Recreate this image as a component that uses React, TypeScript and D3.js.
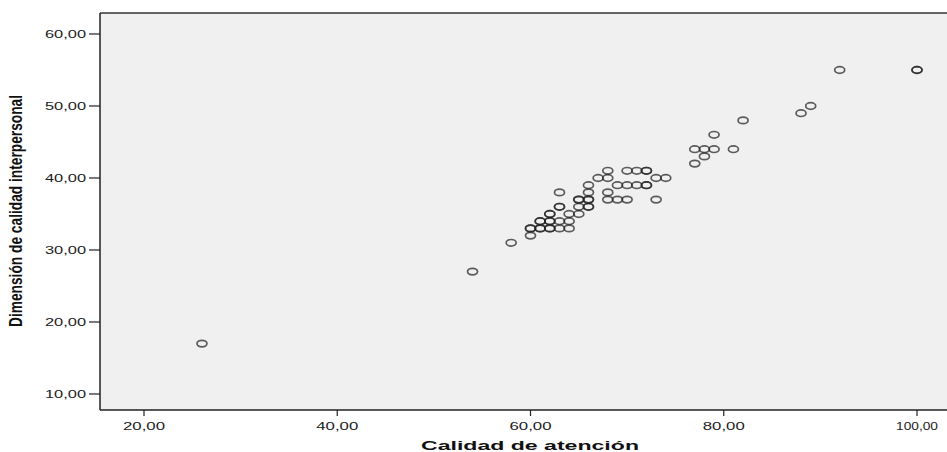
import React from "react";
import * as d3 from "d3";

const xValues = [26, 54, 58, 60, 60, 60, 61, 61, 62, 62, 63, 64, 61, 61, 62, 62, 63, 64, 62, 62, 64, 65, 63, 63, 65, 66, 66, 65, 65, 66, 66, 68, 69, 70, 73, 63, 66, 68, 66, 69, 70, 71, 72, 72, 67, 68, 73, 74, 68, 70, 71, 72, 72, 77, 78, 77, 78, 79, 81, 79, 82, 88, 89, 92, 100, 100];
const yValues = [17, 27, 31, 32, 33, 33, 33, 33, 33, 33, 33, 33, 34, 34, 34, 34, 34, 34, 35, 35, 35, 35, 36, 36, 36, 36, 36, 37, 37, 37, 37, 37, 37, 37, 37, 38, 38, 38, 39, 39, 39, 39, 39, 39, 40, 40, 40, 40, 41, 41, 41, 41, 41, 42, 43, 44, 44, 44, 44, 46, 48, 49, 50, 55, 55, 55];
const xTicks = [20, 40, 60, 80, 100];
const yTicks = [10, 20, 30, 40, 50, 60];
const xTitle = "Calidad de atención";
const yTitle = "Dimensión de calidad interpersonal";

const fmt = (v: number) => v.toFixed(2).replace(".", ",");

export default function App() {
  const W = 947;
  const H = 452;
  const left = 100;
  const top = 13;
  const bottom = 410;
  const right = 947;
  const x = d3.scaleLinear().domain([20, 100]).range([144, 917]);
  const y = d3.scaleLinear().domain([10, 60]).range([394, 34]);
  const points = xValues.map((v, i) => ({ x: v, y: yValues[i] }));
  const font = "Arial, 'Liberation Sans', sans-serif";
  return (
    <svg
      width={W}
      height={H}
      style={{ position: "absolute", left: 0, top: 0, background: "#fff" }}
    >
      <rect x={left} y={top} width={right - left} height={bottom - top} fill="#f0f0f0" />
      <line x1={left} x2={right} y1={top} y2={top} stroke="#333" strokeWidth={1.3} />
      <line x1={left} x2={right} y1={bottom} y2={bottom} stroke="#222" strokeWidth={1.5} />
      <line x1={left} x2={left} y1={top} y2={bottom} stroke="#222" strokeWidth={1.5} />
      {yTicks.map((t) => (
        <g key={"y" + t}>
          <line x1={89} x2={left} y1={y(t)} y2={y(t)} stroke="#222" strokeWidth={1.2} />
          <text
            x={45}
            y={y(t) + 3.5}
            fontFamily={font}
            fontSize={10}
            fill="#222"
            textLength={41}
            lengthAdjust="spacingAndGlyphs"
          >
            {fmt(t)}
          </text>
        </g>
      ))}
      {xTicks.map((t) => (
        <g key={"x" + t}>
          <line x1={x(t)} x2={x(t)} y1={bottom} y2={bottom + 6} stroke="#222" strokeWidth={1.2} />
          <text
            x={x(t) - 21}
            y={430}
            fontFamily={font}
            fontSize={10.5}
            fill="#222"
            textLength={42}
            lengthAdjust="spacingAndGlyphs"
          >
            {fmt(t)}
          </text>
        </g>
      ))}
      <text
        x={421}
        y={450}
        fontFamily={font}
        fontSize={12.5}
        fontWeight="bold"
        fill="#111"
        textLength={218}
        lengthAdjust="spacingAndGlyphs"
      >
        {xTitle}
      </text>
      <text
        transform={`translate(22,327) rotate(-90)`}
        x={0}
        y={0}
        fontFamily={font}
        fontSize={18}
        fontWeight="bold"
        fill="#111"
        textLength={232}
        lengthAdjust="spacingAndGlyphs"
      >
        {yTitle}
      </text>
      {points.map((p, i) => (
        <ellipse
          key={i}
          cx={x(p.x)}
          cy={y(p.y)}
          rx={5}
          ry={3.3}
          fill="none"
          stroke="#222"
          strokeOpacity={0.72}
          strokeWidth={1.7}
        />
      ))}
    </svg>
  );
}
